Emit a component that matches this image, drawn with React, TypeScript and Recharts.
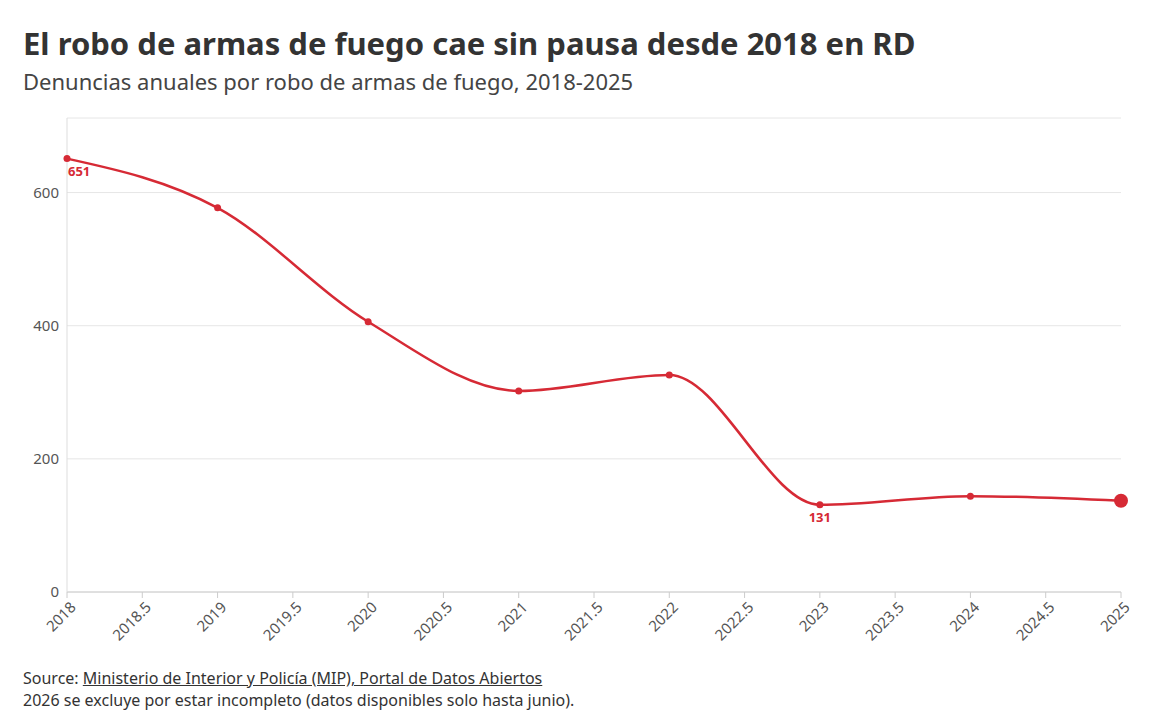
import React from "react";
import { LineChart, Line, XAxis, YAxis, CartesianGrid, LabelList } from "recharts";

const years = [2018, 2019, 2020, 2021, 2022, 2023, 2024, 2025];
const denuncias = [651, 577, 406, 302, 326, 131, 144, 137];
const xTicks = [2018, 2018.5, 2019, 2019.5, 2020, 2020.5, 2021, 2021.5, 2022, 2022.5, 2023, 2023.5, 2024, 2024.5, 2025];
const yTicks = [0, 200, 400, 600];
const labelled = [2018, 2023];

const data = years.map((y, i) => ({ year: y, value: denuncias[i] }));
const RED = "#d62a35";
const FONT = "'Noto Sans', 'Open Sans', sans-serif";

const Dot = (props: any) => {
  const { cx, cy, index } = props;
  const last = index === data.length - 1;
  return <circle key={index} cx={cx} cy={cy} r={last ? 7 : 3.5} fill={RED} />;
};

const XTick = ({ x, y, payload }: any) => (
  <g transform={`translate(${x},${y + 4})`}>
    <text textAnchor="end" transform="rotate(-45)" dy={10} dx={4} fill="#555" fontSize={15} fontFamily={FONT}>
      {payload.value}
    </text>
  </g>
);

const PointLabel = (props: any) => {
  const { x, y, value, index } = props;
  if (!labelled.includes(years[index])) return null;
  const first = index === 0;
  return (
    <text x={first ? x + 1 : x} y={y + 17} textAnchor={first ? "start" : "middle"} fill={RED} fontSize={13} fontWeight={700} fontFamily={FONT}>
      {value}
    </text>
  );
};

export default function App() {
  return (
    <div style={{ position: "absolute", left: 0, top: 0, width: 1172, height: 722, background: "#fff", fontFamily: FONT }}>
      <div style={{ position: "absolute", left: 23, top: 22, fontSize: 31, fontWeight: 700, color: "#333" }}>
        El robo de armas de fuego cae sin pausa desde 2018 en RD
      </div>
      <div style={{ position: "absolute", left: 23, top: 66, fontSize: 22, color: "#444" }}>
        Denuncias anuales por robo de armas de fuego, 2018-2025
      </div>
      <div style={{ position: "absolute", left: 0, top: 110 }}>
        <LineChart width={1172} height={560} data={data} margin={{ top: 8, right: 51, left: 10, bottom: 0 }}>
          <CartesianGrid vertical={false} stroke="#e6e6e6" />
          <XAxis
            dataKey="year"
            type="number"
            domain={[2018, 2025]}
            ticks={xTicks}
            interval={0}
            height={78}
            tick={<XTick />}
            stroke="#ccc"
            tickLine={{ stroke: "#ccc" }}
          />
          <YAxis
            domain={[0, 712]}
            ticks={yTicks}
            width={57}
            axisLine={{ stroke: "#ddd" }}
            tickLine={false}
            tick={{ fill: "#555", fontSize: 15, fontFamily: FONT }}
          />
          <Line type="monotone" dataKey="value" stroke={RED} strokeWidth={2.5} dot={<Dot />} activeDot={false} isAnimationActive={false}>
            <LabelList dataKey="value" content={<PointLabel />} />
          </Line>
        </LineChart>
      </div>
      <div style={{ position: "absolute", left: 23, top: 667, fontSize: 16, color: "#333", lineHeight: "22px" }}>
        <div>
          Source: <span style={{ textDecoration: "underline" }}>Ministerio de Interior y Policía (MIP), Portal de Datos Abiertos</span>
        </div>
        <div>2026 se excluye por estar incompleto (datos disponibles solo hasta junio).</div>
      </div>
    </div>
  );
}
